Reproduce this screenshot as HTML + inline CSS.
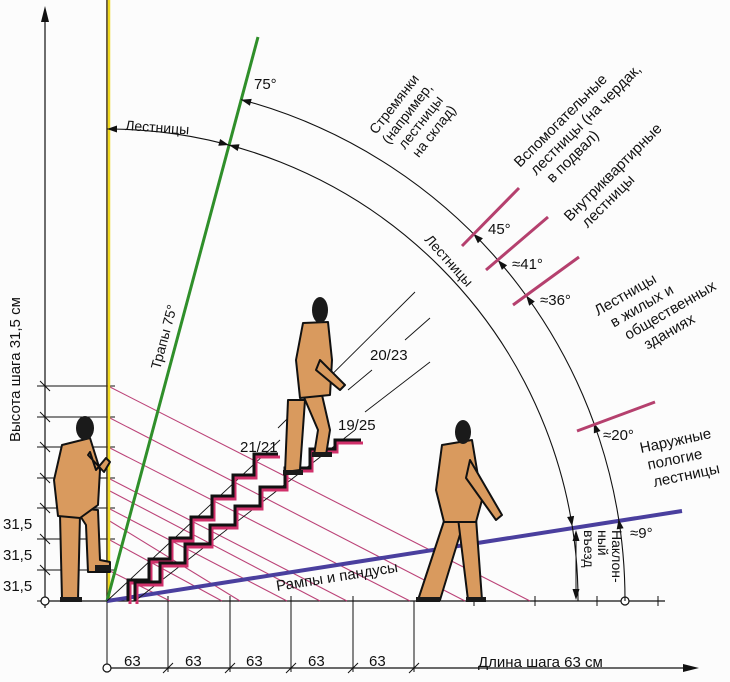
<!DOCTYPE html>
<html><head><meta charset="utf-8"><style>
html,body{margin:0;padding:0;background:#fff}
svg{display:block}
text{font-family:"Liberation Sans",sans-serif;fill:#111}
</style></head><body>
<svg width="730" height="682" viewBox="0 0 730 682" xmlns="http://www.w3.org/2000/svg">
<rect width="730" height="682" fill="#fcfcfc"/>
<line x1="45" y1="608" x2="45" y2="20" stroke="#111" stroke-width="1.2"/>
<polygon points="45,6 41,22 49,22" fill="#111"/>
<g stroke="#111" stroke-width="1">
<line x1="37" y1="601" x2="115" y2="601"/><line x1="37" y1="570" x2="115" y2="570"/>
<line x1="37" y1="539" x2="115" y2="539"/><line x1="37" y1="508" x2="115" y2="508"/>
<line x1="37" y1="478" x2="115" y2="478"/><line x1="37" y1="447" x2="115" y2="447"/>
<line x1="37" y1="417" x2="115" y2="417"/><line x1="37" y1="386" x2="115" y2="386"/>
<line x1="40" y1="565" x2="50" y2="575"/><line x1="40" y1="534" x2="50" y2="544"/>
<line x1="40" y1="503" x2="50" y2="513"/><line x1="40" y1="473" x2="50" y2="483"/>
<line x1="40" y1="442" x2="50" y2="452"/><line x1="40" y1="412" x2="50" y2="422"/>
<line x1="40" y1="381" x2="50" y2="391"/>
</g>
<text x="3" y="591" font-size="15">31,5</text>
<text x="3" y="560" font-size="15">31,5</text>
<text x="3" y="529" font-size="15">31,5</text>
<text transform="translate(20,442) rotate(-90)" font-size="15">Высота шага 31,5 см</text>
<line x1="40" y1="601" x2="665" y2="601" stroke="#111" stroke-width="1.2"/>
<g stroke="#111" stroke-width="1">
<line x1="168" y1="596" x2="168" y2="606"/><line x1="230" y1="596" x2="230" y2="606"/>
<line x1="291" y1="596" x2="291" y2="606"/><line x1="353" y1="596" x2="353" y2="606"/>
<line x1="474" y1="596" x2="474" y2="606"/><line x1="535" y1="596" x2="535" y2="606"/>
<line x1="597" y1="596" x2="597" y2="606"/><line x1="658" y1="596" x2="658" y2="606"/>
</g>
<circle cx="45" cy="601" r="4" fill="#fff" stroke="#111" stroke-width="1.2"/>
<circle cx="625" cy="601" r="4" fill="#fff" stroke="#111" stroke-width="1.2"/>
<line x1="107" y1="668" x2="685" y2="668" stroke="#111" stroke-width="1.2"/>
<polygon points="699,668 683,664 683,672" fill="#111"/>
<g stroke="#111" stroke-width="1">
<line x1="107" y1="601" x2="107" y2="668"/><line x1="168" y1="601" x2="168" y2="672"/>
<line x1="230" y1="601" x2="230" y2="672"/><line x1="291" y1="601" x2="291" y2="672"/>
<line x1="353" y1="601" x2="353" y2="672"/><line x1="414" y1="601" x2="414" y2="672"/>
<line x1="163" y1="673" x2="173" y2="663"/><line x1="225" y1="673" x2="235" y2="663"/>
<line x1="286" y1="673" x2="296" y2="663"/><line x1="348" y1="673" x2="358" y2="663"/>
<line x1="409" y1="673" x2="419" y2="663"/>
</g>
<circle cx="107" cy="668" r="4" fill="#fff" stroke="#111" stroke-width="1.2"/>
<g font-size="15"><text x="124" y="666">63</text><text x="185" y="666">63</text><text x="246" y="666">63</text><text x="308" y="666">63</text><text x="369" y="666">63</text></g>
<text x="478" y="667" font-size="15">Длина шага 63 см</text>
<g stroke="#b5306a" stroke-width="1.1" opacity="0.9">
<line x1="108" y1="570" x2="170" y2="601"/><line x1="108" y1="539" x2="222" y2="601"/>
<line x1="108" y1="508" x2="287" y2="601"/><line x1="108" y1="478" x2="347" y2="601"/>
<line x1="108" y1="447" x2="410" y2="601"/><line x1="108" y1="417" x2="465" y2="601"/>
<line x1="108" y1="386" x2="530" y2="601"/>
<line x1="108" y1="520" x2="240" y2="601"/><line x1="108" y1="490" x2="320" y2="601"/>
</g>
<line x1="107" y1="0" x2="107" y2="601" stroke="#3a2a10" stroke-width="1.5"/>
<line x1="109" y1="0" x2="109" y2="601" stroke="#f0d820" stroke-width="2.5"/>
<line x1="107" y1="601" x2="258" y2="37" stroke="#2f8f2a" stroke-width="3"/>
<line x1="107" y1="601" x2="682" y2="511" stroke="#4a3f9e" stroke-width="4"/>
<g stroke="#111" stroke-width="0.9">
<line x1="107" y1="601" x2="280" y2="440"/><line x1="135" y1="601" x2="355" y2="430"/>
<line x1="278" y1="428" x2="415" y2="292"/><line x1="348" y1="390" x2="372" y2="370"/>
<line x1="405" y1="340" x2="430" y2="318"/><line x1="365" y1="412" x2="430" y2="362"/>
</g>
<path d="M241.1 99.6 A518 518 0 0 1 625 601" fill="none" stroke="#111" stroke-width="1.1"/>
<path d="M107 129 A471 471 0 0 1 578 601" fill="none" stroke="#111" stroke-width="1.1"/>
<g fill="#111">
<polygon points="241.1,99.7 251.7,98.9 249.9,105.7"/>
<polygon points="473.3,233.7 482.9,238.3 477.9,243.3"/>
<polygon points="497.9,260.1 507.1,265.3 501.9,269.9"/>
<polygon points="526.1,295.5 534.8,301.5 529.2,305.7"/>
<polygon points="593.8,422.8 600.5,431 593.9,433.4"/>
<polygon points="618.6,519 623.6,528.3 616.7,529.4"/>
<polygon points="107,129 117,125.5 117,132.5"/>
<polygon points="228.9,145 220.1,139 218.3,145.8"/>
<polygon points="228.9,145 239.5,144.2 237.7,151"/>
<polygon points="572.2,526.3 574.1,515.9 567.1,517"/>
<polygon points="576,530 572.5,541 579.5,541"/>
<polygon points="576,600 572.5,589 579.5,589"/>
</g>
<line x1="576" y1="535" x2="576" y2="596" stroke="#111" stroke-width="1"/>
<g stroke="#b5406e" stroke-width="3">
<line x1="462" y1="246" x2="519" y2="188"/>
<line x1="486" y1="270" x2="548" y2="217"/>
<line x1="513" y1="305" x2="579" y2="257"/>
<line x1="577" y1="431" x2="655" y2="402"/>
</g>
<g fill="none" stroke-linejoin="miter">
<path transform="translate(2,3)" stroke="#d0306a" stroke-width="3" d="M128 601 V580 H149 V559 H170 V538 H191 V517 H212 V496 H233 V475 H254 V454 H278"/>
<path stroke="#111" stroke-width="3" d="M128 601 V580 H149 V559 H170 V538 H191 V517 H212 V496 H233 V475 H254 V454 H278"/>
<path transform="translate(2,3)" stroke="#d0306a" stroke-width="3" d="M135 601 V582 H160 V563 H185 V544 H210 V525 H235 V506 H260 V487 H285 V468 H310 V449 H335 V440 H361"/>
<path stroke="#111" stroke-width="3" d="M135 601 V582 H160 V563 H185 V544 H210 V525 H235 V506 H260 V487 H285 V468 H310 V449 H335 V440 H361"/>
</g>
<g fill="#d99a5e" stroke="#111" stroke-width="2" stroke-linejoin="round">
<path d="M60 515 L80 515 L78 600 L62 600 Z"/>
<path d="M75 508 L98 510 L100 560 L110 562 L110 572 L88 572 L86 525 Z"/>
<path d="M62 445 L90 438 L100 470 L98 505 L80 518 L58 516 L54 480 Z"/>
<path d="M88 455 L104 472 L110 462 L106 458 L96 470 L90 452 Z"/>
<path d="M288 400 L305 400 L300 470 L285 472 Z"/>
<path d="M303 395 L322 395 L330 430 L326 455 L314 455 L318 430 Z"/>
<path d="M303 323 L328 322 L332 360 L330 395 L300 398 L296 360 Z"/>
<path d="M320 360 L345 385 L340 390 L316 370 Z"/>
<path d="M445 518 L465 518 L440 600 L418 600 Z"/>
<path d="M458 518 L476 518 L482 600 L468 600 Z"/>
<path d="M442 445 L472 440 L482 500 L476 522 L444 522 L436 490 Z"/>
<path d="M470 460 L502 515 L496 520 L466 478 Z"/>
</g>
<g fill="#1a1a1a">
<ellipse cx="85" cy="428" rx="9" ry="12"/>
<ellipse cx="320" cy="310" rx="8" ry="13"/>
<ellipse cx="463" cy="432" rx="8" ry="12"/>
<rect x="60" y="597" width="22" height="5"/><rect x="95" y="565" width="16" height="6"/>
<rect x="283" y="470" width="20" height="5"/><rect x="312" y="452" width="20" height="5"/>
<rect x="416" y="597" width="24" height="5"/><rect x="466" y="597" width="20" height="5"/>
</g>
<text transform="translate(125,130) rotate(4)" font-size="14">Лестницы</text>
<text x="254" y="89" font-size="15">75°</text>
<text transform="translate(160,370) rotate(-75)" font-size="14">Трапы 75°</text>
<g font-size="14" transform="translate(376,135) rotate(-52)">
<text x="0" y="0">Стремянки</text><text x="0" y="16">(например,</text><text x="6" y="32">лестницы</text><text x="8" y="48">на склад)</text>
</g>
<text transform="translate(424,240) rotate(48)" font-size="14">Лестницы</text>
<g font-size="15" transform="translate(520,168) rotate(-45)">
<text x="0" y="0">Вспомогательные</text><text x="6" y="17">лестницы (на чердак,</text><text x="12" y="34">в подвал)</text>
</g>
<g font-size="15" transform="translate(570,222) rotate(-45)">
<text x="0" y="0">Внутриквартирные</text><text x="8" y="17">лестницы</text>
</g>
<g font-size="15" transform="translate(598,316) rotate(-30)">
<text x="0" y="0">Лестницы</text><text x="8" y="18">в  жилых  и</text><text x="14" y="36">общественных</text><text x="26" y="54">зданиях</text>
</g>
<text x="488" y="234" font-size="15">45°</text>
<text x="512" y="269" font-size="15">≈41°</text>
<text x="540" y="305" font-size="15">≈36°</text>
<text x="603" y="440" font-size="15">≈20°</text>
<text x="630" y="538" font-size="15">≈9°</text>
<g font-size="15" transform="translate(641,453) rotate(-12)">
<text x="0" y="0">Наружные</text><text x="4" y="18">пологие</text><text x="6" y="36">лестницы</text>
</g>
<g font-size="14" transform="translate(612,530) rotate(90)">
<text x="0" y="0">Наклон-</text><text x="0" y="14">ный</text><text x="0" y="28">въезд</text>
</g>
<text transform="translate(277,591) rotate(-9)" font-size="15">Рампы и  пандусы</text>
<text x="370" y="360" font-size="15">20/23</text>
<text x="240" y="452" font-size="15">21/21</text>
<text x="338" y="430" font-size="15">19/25</text>
</svg>
</body></html>
